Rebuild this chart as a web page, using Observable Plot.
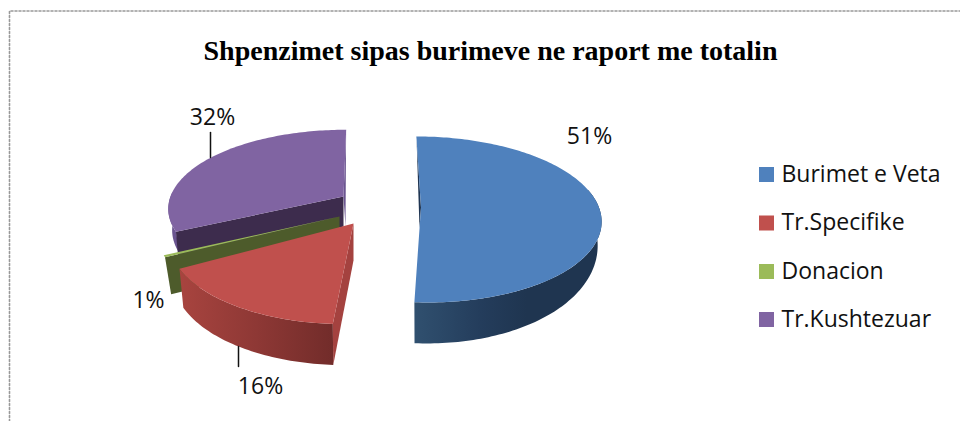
<!DOCTYPE html>
<html>
<head>
<meta charset="utf-8">
<script src="https://cdn.jsdelivr.net/npm/d3@7"></script>
<script src="https://cdn.jsdelivr.net/npm/@observablehq/plot@0.6"></script>
<style>html,body{margin:0;padding:0;background:#fff;overflow:hidden}svg{display:block}</style>
</head>
<body>
<div id="root"></div>
<script>
const titleText = "Shpenzimet sipas burimeve ne raport me totalin";
const categories = ["Burimet e Veta", "Tr.Specifike", "Donacion", "Tr.Kushtezuar"];
const shares = [51, 16, 1, 32];
const topColors = ["#4f81bd", "#c0504d", "#9bbb59", "#8064a2"];
const cutColors = ["#1f3552", "#a4423f", "#4d5b2b", "#3d2c4d"];
const wallFills = ["url(#wallBlue)", "url(#wallRed)", "#4d5b2b", "#6b5590"];

// 3-D view of each exploded slice
const view = [
  {cx: 420.5, cy: 207, rx: 178, ry: 83, s: 0.065, t0: 20.5, t1: 20.5, k: 0.022, lean: -1.5},
  {cx: 353, cy: 223, rx: 182, ry: 88, s: -0.076, t0: 37, t1: 4, k: 0.022, lean: 0},
  {cx: 339, cy: 216, rx: 181, ry: 86, s: -0.05, t0: 37, t1: 0, k: 0.035, lean: 0},
  {cx: 343, cy: 196, rx: 173, ry: 78, s: -0.04, t0: 30, t1: 30, k: 0.022, lean: 2}
];
const purpleRim = {...view[3], t0: 21, t1: 2};
const greenFaceShare = 0.35; // the visible part of the thin green top face
const persp = 0.144;

function upper(v, a) {
  const Y = -Math.cos(a), f = 1 + persp * Y;
  const y = v.cy + v.ry * Y * f;
  return {x: v.cx + v.rx * Math.sin(a) * f + v.s * (y - v.cy), y, Y};
}
function lower(v, p) {
  return {x: p.x - v.k * (p.x - v.cx), y: p.y + v.t0 + v.t1 * p.Y};
}
function apex(v) { return {x: v.cx, y: v.cy, Y: 0}; }
function arc(v, a0, a1) {
  const n = Math.max(2, Math.ceil((a1 - a0) / 0.02));
  return d3.range(n + 1).map(i => upper(v, a0 + (a1 - a0) * i / n));
}

// slice angles from the values
const total = d3.sum(shares);
let run = 0;
const slices = shares.map((value, i) => {
  const a0 = run / total * 2 * Math.PI;
  run += value;
  return {i, a0, a1: run / total * 2 * Math.PI, v: view[i]};
});

function cutFace(v, a, lean = 0) {
  const p = upper(v, a), o = apex(v), b = lower(v, o);
  return [o, p, lower(v, p), {x: b.x + lean, y: b.y}];
}
function outerWall(v, a0, a1) {
  const ps = arc(v, a0, a1);
  return [...ps, ...ps.map(p => lower(v, p)).reverse()];
}
function topFace(v, a0, a1) {
  return [apex(v), ...arc(v, a0, a1)];
}

const [blue, red, green, purple] = slices;
const greenNear = green.a1 - (green.a1 - green.a0) * greenFaceShare;
const polys = [
  // purple
  {pts: outerWall(purpleRim, purple.a0, purple.a0 + 0.5), fill: wallFills[3]},
  {pts: cutFace(purple.v, purple.a0), fill: cutColors[3]},
  {pts: cutFace(purple.v, purple.a1, purple.v.lean), fill: wallFills[3]},
  {pts: topFace(purple.v, purple.a0, purple.a1), fill: topColors[3]},
  // green
  {pts: cutFace(green.v, greenNear), fill: cutColors[2]},
  {pts: topFace(green.v, greenNear, green.a1), fill: topColors[2]},
  // red
  {pts: cutFace(red.v, red.a0), fill: cutColors[1]},
  {pts: outerWall(red.v, red.a0, red.a1), fill: wallFills[1]},
  {pts: topFace(red.v, red.a0, red.a1), fill: topColors[1]},
  // blue
  {pts: cutFace(blue.v, blue.a0, blue.v.lean), fill: cutColors[0]},
  {pts: outerWall(blue.v, 1.35, blue.a1), fill: wallFills[0]},
  {pts: topFace(blue.v, blue.a0, blue.a1), fill: topColors[0]}
];

const labels = shares.map(v => v + "%");
const labelX = [589, 260, 148, 212];
const labelY = [143, 393, 307, 124];
const leaders = [
  [{x: 210, y: 132}, {x: 210, y: 157}],
  [{x: 238, y: 346}, {x: 238, y: 366}]
];
const legendY = [167, 215.5, 264, 312];
const border = [{x: 9, y: 421}, {x: 9, y: 10.5}, {x: 960, y: 10.5}];

const gradients = [
  {id: "wallBlue", stops: [[0, "#30506f"], [0.35, "#243d5c"], [0.6, "#1f3550"], [1, "#1f3550"]]},
  {id: "wallRed", stops: [[0, "#a8443f"], [0.5, "#8e3835"], [1, "#722c2a"]]}
];
const defsMark = () => {
  const defs = d3.create("svg:defs");
  for (const g of gradients) {
    const lg = defs.append("linearGradient").attr("id", g.id)
      .attr("x1", 0).attr("x2", 1).attr("y1", 0).attr("y2", 0);
    g.stops.forEach(([o, c]) => lg.append("stop").attr("offset", o).attr("stop-color", c));
  }
  return defs.node();
};

const legendFont = "'Open Sans', 'Noto Sans', sans-serif";
const figure = Plot.plot({
  width: 960, height: 421, margin: 0,
  x: {domain: [0, 960], range: [0, 960], axis: null},
  y: {domain: [0, 421], range: [0, 421], axis: null},
  style: {background: "#fff", color: "#111"},
  marks: [
    defsMark,
    Plot.line(border, {x: "x", y: "y", stroke: "#999", strokeWidth: 1.6, strokeDasharray: "2,2"}),
    ...polys.map(p => Plot.line(p.pts, {x: "x", y: "y", fill: p.fill, stroke: "none"})),
    ...leaders.map(l => Plot.line(l, {x: "x", y: "y", stroke: "#111", strokeWidth: 1.5})),
    Plot.text([titleText], {x: () => 490, y: () => 59, text: d => d, fontFamily: "'Liberation Serif', serif", fontWeight: "bold", fontSize: 28, lineAnchor: "bottom", fill: "#000"}),
    Plot.text(labels, {x: (d, i) => labelX[i], y: (d, i) => labelY[i], text: d => d, fontFamily: legendFont, fontSize: 23, lineAnchor: "bottom", fill: "#111"}),
    Plot.rect(categories, {x1: () => 759, x2: () => 774, y1: (d, i) => legendY[i], y2: (d, i) => legendY[i] + 15, fill: (d, i) => topColors[i]}),
    Plot.text(categories, {x: () => 781, y: (d, i) => legendY[i] + 14, text: d => d, textAnchor: "start", fontFamily: legendFont, fontSize: 23, lineAnchor: "bottom", fill: "#111"})
  ]
});
document.getElementById("root").appendChild(figure);
</script>
</body>
</html>
